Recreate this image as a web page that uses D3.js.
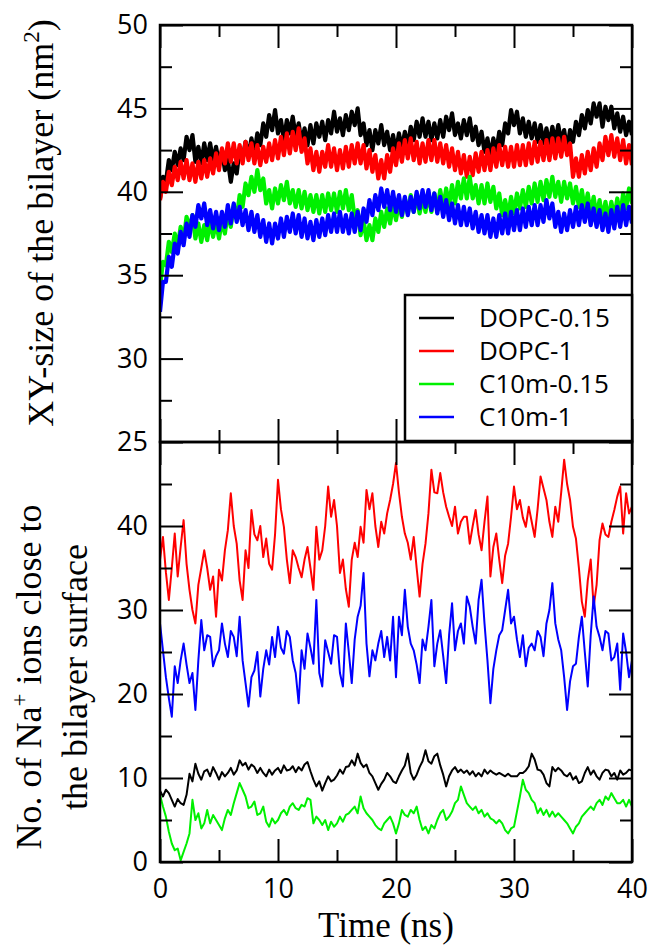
<!DOCTYPE html>
<html><head><meta charset="utf-8">
<script src="https://cdn.jsdelivr.net/npm/d3@7.9.0/dist/d3.min.js"></script>
<style>body{margin:0;background:#fff}svg{display:block}.serif{font-family:"Liberation Serif","DejaVu Serif",serif}</style>
</head><body><svg width="651" height="946"></svg>
<script>
// sampled every 0.25 ns, 0..40
const dt=0.25;
const series=["DOPC-0.15","DOPC-1","C10m-0.15","C10m-1"];
const colors=["#000000","#ff0000","#00f000","#0000ff"];

// XY-size of the bilayer (nm^2)
const topDOPC015=[39.6,40.9,40.6,41.9,41.3,42.4,41.6,42.6,41.9,43.3,42.5,43.4,41.8,42.7,41.7,42.9,41.9,42.9,41.8,42.7,
41.7,42.5,41.3,41.9,40.6,41.7,41.1,42.6,42.0,43.0,42.1,43.2,42.3,43.5,42.8,44.1,43.3,44.6,43.7,44.9,
43.5,44.3,43.1,44.3,43.5,44.5,43.3,44.1,42.9,43.8,42.8,44.0,42.9,44.1,43.3,44.2,43.1,44.3,43.5,44.8,
43.6,44.4,43.4,44.6,43.7,44.8,44.0,45.0,43.4,44.1,42.8,43.7,42.5,43.7,42.9,44.0,42.8,43.6,42.5,43.4,
42.4,43.5,42.6,43.6,42.7,43.9,43.1,44.2,43.3,44.4,43.3,44.2,43.1,44.1,43.2,44.3,43.3,44.5,43.7,44.7,
43.4,44.1,43.2,44.3,43.4,44.4,43.1,43.9,42.8,43.6,42.4,43.2,42.1,43.2,42.4,43.6,42.8,44.1,43.5,44.9,
44.0,44.8,43.5,44.4,43.3,44.2,43.2,44.1,43.0,44.0,42.9,43.8,42.8,43.9,43.0,44.0,43.0,43.7,42.5,43.7,
43.0,44.2,43.4,44.6,43.8,44.9,44.1,45.3,44.5,45.3,43.9,45.1,44.3,45.1,43.8,44.7,43.6,44.5,43.4,44.2,43.4];
const topDOPC1=[39.5,40.6,40.0,41.2,40.4,41.5,40.7,41.8,40.8,41.9,40.7,41.7,40.6,41.8,40.8,41.9,40.9,42.0,41.1,42.3,
41.3,42.6,41.7,42.9,41.8,42.9,41.7,42.8,41.7,43.0,41.9,42.9,41.7,42.8,41.6,42.7,41.8,42.9,41.9,43.1,
42.0,43.3,42.2,43.5,42.3,43.6,42.5,43.8,42.4,43.2,41.7,42.6,41.3,42.4,41.2,42.4,41.5,42.8,41.5,42.6,
41.3,42.5,41.4,42.7,41.5,42.8,41.7,42.9,41.7,42.8,41.4,42.5,41.2,42.2,40.8,41.9,40.8,42.2,41.2,42.6,
41.6,42.9,41.8,43.1,42.0,43.2,41.9,43.0,41.7,42.9,41.8,43.1,41.9,43.1,41.8,42.9,41.7,42.8,41.5,42.6,
41.3,42.4,41.1,42.2,40.9,42.1,41.0,42.3,41.2,42.4,41.3,42.5,41.3,42.6,41.5,42.8,41.6,42.7,41.5,42.7,
41.5,42.8,41.6,42.8,41.6,42.9,41.7,43.0,41.8,43.0,41.9,43.1,41.9,43.2,42.0,43.2,42.1,43.3,42.2,42.9,
40.9,42.0,40.9,42.2,41.1,42.4,41.3,42.6,41.5,42.9,41.9,43.3,42.2,43.4,42.1,43.2,41.9,43.1,41.7,42.8,41.6];
const topC10m015=[34.3,35.8,35.6,37.0,36.4,37.5,36.7,37.9,37.1,38.5,37.8,38.6,37.2,38.1,37.0,38.0,37.1,38.3,37.3,38.2,
37.2,38.3,37.5,38.8,37.9,39.2,38.4,39.8,39.1,40.5,39.8,40.9,40.0,41.3,40.1,40.8,39.3,40.1,39.0,40.2,
39.3,40.4,39.5,40.6,39.3,40.1,39.1,40.1,39.0,40.0,38.9,39.8,38.8,39.8,38.7,39.8,38.8,39.9,38.9,39.9,
38.8,40.0,39.0,40.1,38.9,39.8,38.4,38.9,37.4,38.3,37.1,38.0,37.1,38.4,37.6,38.8,37.9,39.0,38.1,39.3,
38.3,39.4,38.5,39.6,38.7,39.8,38.8,39.8,38.7,39.7,38.8,39.9,38.8,39.9,38.9,40.1,39.0,40.2,39.2,40.4,
39.3,40.6,39.6,40.8,39.6,40.9,39.6,40.4,39.3,40.4,39.3,40.5,39.4,40.3,39.0,39.9,38.6,39.5,38.5,39.7,
38.7,39.9,39.0,40.1,39.1,40.3,39.3,40.5,39.4,40.6,39.5,40.7,39.7,40.9,39.7,40.6,39.4,40.6,39.6,40.5,
39.3,40.3,39.1,40.1,38.9,39.9,38.7,39.7,38.5,39.5,38.4,39.4,38.3,39.4,38.4,39.6,38.6,39.9,39.0,40.2,39.3];
const topC10m1=[32.8,34.6,34.6,36.1,35.5,36.9,36.3,37.6,36.8,38.1,37.3,38.6,37.9,39.2,38.4,39.3,38.0,38.9,37.8,38.8,
37.7,38.8,37.9,39.2,38.1,39.3,38.2,39.1,38.0,38.9,37.7,38.8,37.6,38.6,37.3,38.3,37.0,38.1,36.9,38.1,
37.2,38.4,37.3,38.5,37.6,38.7,37.5,38.6,37.3,38.4,37.2,38.2,37.1,38.3,37.3,38.4,37.4,38.6,37.6,38.7,
37.6,38.8,37.6,38.6,37.5,38.7,37.6,38.8,37.7,39.0,38.2,39.5,38.6,39.8,38.9,40.2,39.1,40.1,38.9,40.0,
38.8,39.8,38.6,39.7,38.6,39.7,38.8,40.0,39.0,40.1,39.1,40.1,38.9,39.9,38.7,39.7,38.5,39.5,38.3,39.3,
38.1,39.2,38.0,39.1,38.0,39.0,37.8,38.8,37.6,38.6,37.5,38.6,37.3,38.4,37.3,38.6,37.5,38.7,37.5,38.8,
37.7,38.9,37.7,39.0,37.9,39.1,38.0,39.2,38.0,39.2,38.2,39.5,38.4,39.3,37.9,38.8,37.6,38.7,37.7,38.9,
37.9,39.1,38.0,39.2,38.2,39.3,38.0,39.0,37.9,38.9,37.7,38.7,37.6,38.9,37.8,39.1,37.9,39.2,38.0,39.1,38.1];

// No. of Na+ ions close to the bilayer surface
const ionDOPC015=[8.5,7.8,8.6,8.2,7.4,6.6,7.5,7.0,6.8,8.0,10.5,9.6,11.7,10.5,9.8,10.8,11.0,10.2,11.3,10.6,
9.8,10.7,10.2,10.6,11.2,10.4,10.9,12.1,11.5,11.8,11.0,11.6,11.3,10.6,11.2,10.6,10.2,11.0,10.4,10.9,
11.2,10.6,11.5,10.9,11.0,11.4,10.7,11.3,10.9,11.6,11.9,10.8,9.8,9.0,9.6,8.5,9.4,10.2,9.6,9.8,
10.3,11.0,10.5,11.3,11.4,12.1,11.5,12.9,11.8,11.3,11.6,10.6,10.2,9.4,8.6,9.3,9.8,10.6,10.2,9.6,
9.4,10.2,10.9,11.5,12.9,10.6,9.8,10.4,11.3,12.0,13.3,12.0,11.7,12.6,12.9,11.5,10.4,9.0,10.2,10.9,
11.3,10.7,11.0,10.6,10.9,10.4,10.8,10.2,10.6,10.2,11.0,10.5,10.9,10.6,10.4,10.6,10.4,10.2,10.5,10.2,
10.2,10.2,10.6,10.6,10.9,11.4,12.9,12.2,11.0,10.9,10.4,9.4,9.0,11.3,10.8,11.2,10.9,10.4,10.2,10.6,
9.8,10.2,9.4,9.6,10.6,11.3,10.4,10.9,10.2,9.8,10.6,11.0,10.9,10.2,10.6,9.8,10.9,10.4,10.6,11.0,10.9];
const ionDOPC1=[36.0,38.7,34.5,31.2,35.0,39.1,34.0,37.5,40.7,35.5,32.4,30.0,28.4,33.0,35.0,37.1,35.0,32.4,34.0,29.2,
34.8,33.5,37.1,39.5,43.9,40.0,37.9,33.5,31.2,37.1,35.0,41.9,39.0,38.3,40.0,36.3,38.5,35.5,34.8,39.0,
45.5,42.0,39.9,36.0,33.2,37.1,36.3,35.0,33.9,36.0,37.5,35.0,32.4,39.9,36.0,37.1,40.0,44.7,41.1,43.1,
40.0,34.4,36.0,32.5,30.4,36.0,38.0,36.3,39.9,38.0,44.3,42.0,43.9,40.0,37.5,40.5,39.1,41.5,43.1,45.0,
47.5,44.0,41.1,39.1,38.0,36.0,38.7,35.0,31.6,35.5,37.9,41.5,46.7,44.0,43.9,46.3,44.0,42.3,41.1,40.0,
42.3,39.1,40.5,41.1,41.1,37.9,40.0,41.9,39.0,37.1,40.5,43.5,34.0,37.5,39.1,36.0,33.2,36.5,37.9,41.1,
44.7,42.0,43.1,41.0,39.9,42.3,40.5,38.7,42.0,45.9,44.5,43.1,40.5,38.7,42.3,40.5,44.0,47.9,45.0,43.1,
39.9,38.5,35.0,31.0,29.2,33.5,36.0,30.4,33.0,38.3,40.3,39.0,38.7,40.5,41.9,43.5,44.7,39.1,43.9,41.5,42.3];
const ionC10m015=[8.0,6.6,5.4,3.6,2.2,1.4,1.6,0.2,1.2,2.2,3.4,7.4,5.0,5.8,4.0,4.6,6.2,4.6,5.6,5.0,
4.4,3.8,5.2,6.2,5.6,7.0,8.2,9.4,8.6,7.8,6.4,6.6,7.2,5.6,5.8,6.6,4.8,4.2,5.2,4.6,
5.0,5.8,6.2,5.6,6.6,7.0,6.4,6.2,6.8,6.6,7.6,7.4,4.6,5.4,5.0,4.4,5.0,3.8,4.8,4.2,
4.6,5.4,4.8,5.6,5.8,6.2,6.6,5.8,7.8,6.4,5.8,5.4,5.0,4.4,4.0,3.8,4.6,5.0,5.4,4.6,
3.4,4.6,6.2,5.6,5.4,6.2,5.8,6.6,5.0,3.8,4.2,3.4,4.4,4.0,5.0,5.8,6.2,5.0,5.4,6.0,
7.0,7.4,9.0,8.0,7.0,6.6,6.2,6.6,5.8,6.2,5.4,5.8,5.2,5.0,4.6,5.0,4.6,3.8,3.4,4.0,
4.2,6.0,7.8,9.8,8.6,8.2,7.4,7.0,5.8,6.4,5.6,6.2,5.4,6.0,5.4,5.8,5.4,5.0,4.6,4.0,
3.4,4.2,4.6,5.4,5.8,6.2,6.6,6.2,7.0,7.4,6.8,7.8,7.4,8.2,7.6,7.0,7.0,7.4,6.6,7.4,6.6];
const ionC10m1=[28.4,25.2,22.0,19.5,17.3,23.3,21.3,24.0,26.0,23.5,21.3,22.5,18.1,24.0,28.8,25.2,27.0,26.8,23.3,24.5,
25.2,28.4,26.0,24.4,27.5,26.8,24.5,29.2,24.0,21.3,18.5,22.0,22.8,25.0,19.7,23.0,25.2,23.5,26.8,24.4,
28.0,25.5,24.8,27.5,26.8,24.0,22.5,18.9,25.2,23.0,27.2,25.5,23.6,31.2,22.5,20.9,26.4,25.0,23.6,27.0,
26.8,22.5,20.9,28.4,25.0,21.3,26.5,29.2,30.5,34.4,26.0,22.1,25.2,24.0,26.0,27.5,24.4,26.8,24.0,29.2,
22.0,29.2,27.0,32.4,28.0,26.0,25.2,23.5,21.3,26.5,25.2,28.0,31.2,23.3,26.0,27.6,24.5,21.3,27.0,30.8,
25.2,27.5,28.4,26.0,31.6,30.4,28.0,26.0,31.2,33.6,28.4,24.0,18.9,23.0,25.2,27.0,27.6,30.0,32.4,28.4,
29.2,26.5,24.4,27.0,23.3,25.5,26.0,25.2,27.5,26.8,24.5,28.4,30.0,33.2,28.4,26.5,25.2,22.0,18.1,21.5,
23.3,23.6,26.8,29.2,25.0,20.9,27.0,31.6,28.0,26.8,25.2,27.5,27.2,24.0,24.4,26.0,20.5,27.2,25.0,22.0,24.0];

const topTicks=[25,30,35,40,45,50], topMinor=[27.5,32.5,37.5,42.5,47.5];
const ionTicks=[0,10,20,30,40], ionMinor=[5,15,25,35,45];
const timeTicks=[0,10,20,30,40], timeMinor=[5,15,25,35];

const svg=d3.select('svg');
const L=160,R=632,T=25,M=442,B=862;
const x=d3.scaleLinear([0,40],[L,R]);
const yTop=d3.scaleLinear([25,50],[M,T]);
const yIon=d3.scaleLinear([0,50],[B,M]);
const times=d3.range(topDOPC015.length).map(i=>i*dt);

const defs=svg.append('defs');
defs.append('clipPath').attr('id','cTop').append('rect').attr('x',L).attr('y',T).attr('width',R-L).attr('height',M-T);
defs.append('clipPath').attr('id','cIon').append('rect').attr('x',L).attr('y',M).attr('width',R-L).attr('height',B-M);

function drawLines(sets,y,clip,w){
  const line=d3.line().x((d,i)=>x(times[i])).y(d=>y(d));
  const g=svg.append('g').attr('clip-path',`url(#${clip})`);
  sets.forEach(([s,c])=>g.append('path').attr('d',line(s)).attr('fill','none')
    .attr('stroke',c).attr('stroke-width',w).attr('stroke-linejoin','round'));
}
drawLines([[topDOPC015,colors[0]],[topDOPC1,colors[1]],[topC10m015,colors[2]],[topC10m1,colors[3]]],yTop,'cTop',4.2);
drawLines([[ionDOPC1,colors[1]],[ionC10m1,colors[3]],[ionDOPC015,colors[0]],[ionC10m015,colors[2]]],yIon,'cIon',2);

// ticks (inward, major long / minor short)
const tickFont="'Open Sans',sans-serif";
function ax(gen,tr,vals,size,labels){
  const g=svg.append('g').attr('transform',tr)
    .call(gen.tickValues(vals).tickSize(-size).tickPadding(12).tickFormat(labels?d3.format('d'):''));
  g.select('.domain').remove();
  g.selectAll('.tick line').attr('stroke','#000').attr('stroke-width',2);
  g.selectAll('text').attr('font-family',tickFont).attr('font-size',27).attr('fill','#000');
  return g;
}
// top panel
ax(d3.axisLeft(yTop),`translate(${L},0)`,topTicks,23,true);
ax(d3.axisLeft(yTop),`translate(${L},0)`,topMinor,12,false);
ax(d3.axisRight(yTop),`translate(${R},0)`,topTicks,23,false);
ax(d3.axisRight(yTop),`translate(${R},0)`,topMinor,12,false);
ax(d3.axisTop(x),`translate(0,${T})`,timeTicks,23,false);
ax(d3.axisTop(x),`translate(0,${T})`,timeMinor,12,false);
ax(d3.axisBottom(x),`translate(0,${M})`,timeTicks,23,false);
ax(d3.axisBottom(x),`translate(0,${M})`,timeMinor,12,false);
// ion panel
ax(d3.axisLeft(yIon),`translate(${L},0)`,ionTicks,23,true);
ax(d3.axisLeft(yIon),`translate(${L},0)`,ionMinor,12,false);
ax(d3.axisRight(yIon),`translate(${R},0)`,ionTicks,23,false);
ax(d3.axisRight(yIon),`translate(${R},0)`,ionMinor,12,false);
ax(d3.axisTop(x),`translate(0,${M})`,timeTicks,23,false);
ax(d3.axisTop(x),`translate(0,${M})`,timeMinor,12,false);
const xb=ax(d3.axisBottom(x),`translate(0,${B})`,timeTicks,23,true);
ax(d3.axisBottom(x),`translate(0,${B})`,timeMinor,12,false);
xb.selectAll('text').attr('dy','0.9em');

// frames
[[T,M],[M,B]].forEach(([a,b])=>svg.append('rect').attr('x',L).attr('y',a).attr('width',R-L).attr('height',b-a)
  .attr('fill','none').attr('stroke','#000').attr('stroke-width',2.5));

// legend
const lg=svg.append('g');
lg.append('rect').attr('x',405).attr('y',295).attr('width',R-405).attr('height',146)
  .attr('fill','#fff').attr('stroke','#000').attr('stroke-width',2.5);
series.forEach((s,i)=>{
  const yy=318+i*33;
  lg.append('line').attr('x1',419).attr('x2',454).attr('y1',yy).attr('y2',yy).attr('stroke',colors[i]).attr('stroke-width',2.5);
  lg.append('text').attr('x',479).attr('y',yy).attr('dy','0.36em').attr('font-family',tickFont)
    .attr('font-size',26).text(s);
});

// axis titles
const t1=svg.append('text').attr('class','serif').attr('transform','translate(53,223) rotate(-90)').attr('text-anchor','middle')
  .attr('font-size',36);
t1.append('tspan').text('XY-size of the bilayer (nm');
t1.append('tspan').attr('font-size',23).attr('dy',-14).text('2');
t1.append('tspan').attr('dy',14).text(')');
const t2=svg.append('text').attr('class','serif').attr('transform','translate(41,677) rotate(-90)').attr('text-anchor','middle')
  .attr('font-size',36);
t2.append('tspan').text('No. of Na');
t2.append('tspan').attr('font-size',23).attr('dy',-14).text('+');
t2.append('tspan').attr('dy',14).text(' ions close to');
svg.append('text').attr('class','serif').attr('transform','translate(87,677) rotate(-90)').attr('text-anchor','middle')
  .attr('font-size',36).text('the bilayer surface');
svg.append('text').attr('class','serif').attr('x',386).attr('y',937).attr('text-anchor','middle')
  .attr('font-size',35).text('Time (ns)');
</script></body></html>
